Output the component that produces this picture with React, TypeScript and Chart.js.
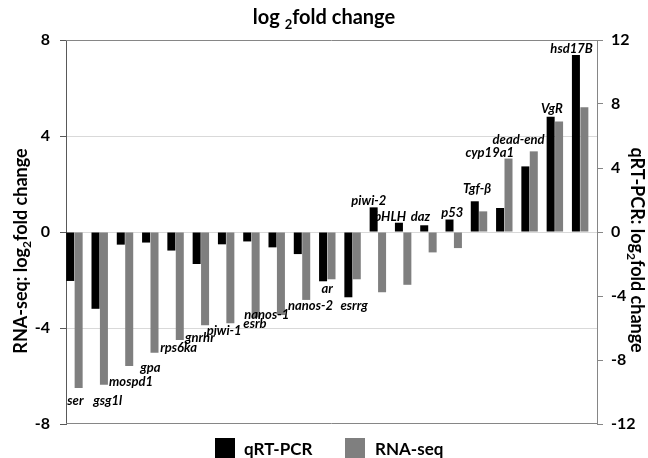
import React, { useEffect, useRef } from "react";
import { Chart, registerables } from "chart.js";

Chart.register(...registerables);

// ---- data ----
const categories = [
  "ser", "gsg1l", "mospd1", "gpa", "rps6ka", "gnrhr", "piwi-1", "esrb", "nanos-1", "nanos-2",
  "ar", "esrrg", "piwi-2", "bHLH", "daz", "p53", "Tgf-β", "cyp19a1", "dead-end", "VgR", "hsd17B",
];
// qRT-PCR (right axis)
const qrtpcr = [
  -3.06, -4.8, -0.79, -0.66, -1.16, -2.0, -0.77, -0.59, -0.96, -1.38,
  -3.08, -4.08, 1.54, 0.58, 0.42, 0.78, 1.92, 1.5, 4.1, 7.2, 11.06,
];
// RNA-seq (left axis)
const rnaseq = [
  -6.5, -6.36, -5.58, -5.03, -4.5, -3.89, -3.8, -3.56, -3.46, -2.83,
  -1.97, -1.97, -2.51, -2.2, -0.85, -0.67, 0.86, 3.06, 3.36, 4.6, 5.2,
];
const leftRange = [-8, 8];
const rightRange = [-12, 12];
const tickStep = 4;
const seriesNames = ["qRT-PCR", "RNA-seq"];

// label nudges (dx, dy) relative to the bar group's centre and outer end
const labelNudge: [number, number][] = [
  [1, 13], [8, 16], [6, 16], [0, 15], [3, 8], [-1, 12], [-2, 8], [3.5, 6], [-10, 0], [8.5, 6],
  [0, 8], [1.5, 9], [-9, -7], [-13, -6], [-8, -8], [-1.5, -7], [-2, -12], [-14.6, -6], [-11, -12], [-3, -8], [-8.6, -6],
];

const FONT = "Lato, 'Open Sans', sans-serif";
const BLACK = "#000000";
const GRAY = "#7f7f7f";

type Part = { t: string; sub?: boolean };

function drawRich(ctx: CanvasRenderingContext2D, parts: Part[], size: number, cx: number, cy: number, rot: number) {
  ctx.save();
  ctx.translate(cx, cy);
  ctx.rotate(rot);
  ctx.fillStyle = "#000";
  ctx.textBaseline = "alphabetic";
  ctx.textAlign = "left";
  const fonts = parts.map((p) => `bold ${p.sub ? Math.round(size * 0.65) : size}px ${FONT}`);
  let total = 0;
  const widths = parts.map((p, i) => {
    ctx.font = fonts[i];
    const w = ctx.measureText(p.t).width;
    total += w;
    return w;
  });
  let x = -total / 2;
  const base = size * 0.36;
  parts.forEach((p, i) => {
    ctx.font = fonts[i];
    ctx.fillText(p.t, x, p.sub ? base + size * 0.22 : base);
    x += widths[i];
  });
  ctx.restore();
}

const decorPlugin = {
  id: "decor",
  afterDatasetsDraw(chart: any) {
    const ctx: CanvasRenderingContext2D = chart.ctx;
    const { left, right, top, bottom } = chart.chartArea;
    // frame top/bottom
    ctx.save();
    ctx.strokeStyle = "#868686";
    ctx.lineWidth = 1;
    ctx.beginPath();
    ctx.moveTo(left, Math.round(top) + 0.5);
    ctx.lineTo(right, Math.round(top) + 0.5);
    ctx.moveTo(left, Math.round(bottom) - 0.5);
    ctx.lineTo(right, Math.round(bottom) - 0.5);
    ctx.stroke();
    ctx.restore();

    // category labels
    const m0 = chart.getDatasetMeta(0);
    const m1 = chart.getDatasetMeta(1);
    ctx.save();
    ctx.font = `italic bold 13px ${FONT}`;
    ctx.fillStyle = "#000";
    ctx.textAlign = "center";
    ctx.textBaseline = "middle";
    categories.forEach((name, i) => {
      const b0 = m0.data[i];
      const b1 = m1.data[i];
      const cx = (b0.x - b0.width / 2 + b1.x + b1.width / 2) / 2;
      const anchor = qrtpcr[i] > 0 ? Math.min(b0.y, b1.y, b0.base) : Math.max(b0.y, b1.y);
      const [dx, dy] = labelNudge[i];
      ctx.fillText(name, cx + dx, anchor + dy);
    });
    ctx.restore();
  },
  afterDraw(chart: any) {
    const ctx: CanvasRenderingContext2D = chart.ctx;
    // title
    drawRich(ctx, [{ t: "log " }, { t: "2", sub: true }, { t: "fold change" }], 20, 324, 17, 0);
    // axis titles
    drawRich(ctx, [{ t: "RNA-seq: log" }, { t: "2", sub: true }, { t: "fold change" }], 18, 21, 251, -Math.PI / 2);
    drawRich(ctx, [{ t: "qRT-PCR: log" }, { t: "2", sub: true }, { t: "fold change" }], 18, 637, 250, Math.PI / 2);
    // legend
    ctx.save();
    ctx.font = `bold 17px ${FONT}`;
    ctx.textBaseline = "alphabetic";
    ctx.textAlign = "left";
    ctx.fillStyle = BLACK;
    ctx.fillRect(215, 438, 20, 20);
    ctx.fillStyle = "#000";
    ctx.fillText(seriesNames[0], 244, 455);
    ctx.fillStyle = GRAY;
    ctx.fillRect(345, 438, 20, 20);
    ctx.fillStyle = "#000";
    ctx.fillText(seriesNames[1], 375, 455);
    ctx.restore();
  },
};

export default function App() {
  const ref = useRef<HTMLCanvasElement | null>(null);
  useEffect(() => {
    if (!ref.current) return;
    const chart = new Chart(ref.current, {
      type: "bar",
      data: {
        labels: categories,
        datasets: [
          { label: seriesNames[0], data: qrtpcr, backgroundColor: BLACK, yAxisID: "y2" },
          { label: seriesNames[1], data: rnaseq, backgroundColor: GRAY, yAxisID: "y" },
          { label: "", data: categories.map(() => null), backgroundColor: "rgba(0,0,0,0)", yAxisID: "y" },
        ],
      },
      options: {
        responsive: false,
        animation: false,
        layout: { padding: { top: 40, bottom: 34, left: 0, right: 0 } },
        datasets: { bar: { barPercentage: 0.95, categoryPercentage: 1 } },
        plugins: { legend: { display: false }, title: { display: false }, tooltip: { enabled: false } },
        scales: {
          x: { display: false },
          y: {
            position: "left",
            min: leftRange[0],
            max: leftRange[1],
            afterFit: (s: any) => { s.width = 66; },
            ticks: { stepSize: tickStep, padding: 10, color: "#000", font: { family: FONT, size: 16, weight: "bold" } },
            grid: {
              color: (c: any) => (Math.abs(c.tick?.value) === leftRange[1] ? "rgba(0,0,0,0)" : "#d9d9d9"),
              tickColor: "#595959",
              tickLength: 6,
              drawTicks: true,
            },
            border: { color: "#595959", width: 1 },
          },
          y2: {
            position: "right",
            min: rightRange[0],
            max: rightRange[1],
            afterFit: (s: any) => { s.width = 51; },
            ticks: { stepSize: tickStep, padding: 8, color: "#000", font: { family: FONT, size: 16, weight: "bold" } },
            grid: { drawOnChartArea: false, tickColor: "#868686", tickLength: 6, drawTicks: true },
            border: { color: "#868686", width: 1 },
          },
        },
      },
      plugins: [decorPlugin],
    } as any);
    return () => chart.destroy();
  }, []);
  return (
    <div style={{ position: "fixed", left: 0, top: 0, width: 648, height: 458, background: "#fff" }}>
      <canvas ref={ref} width={648} height={458} style={{ display: "block" }} />
    </div>
  );
}
